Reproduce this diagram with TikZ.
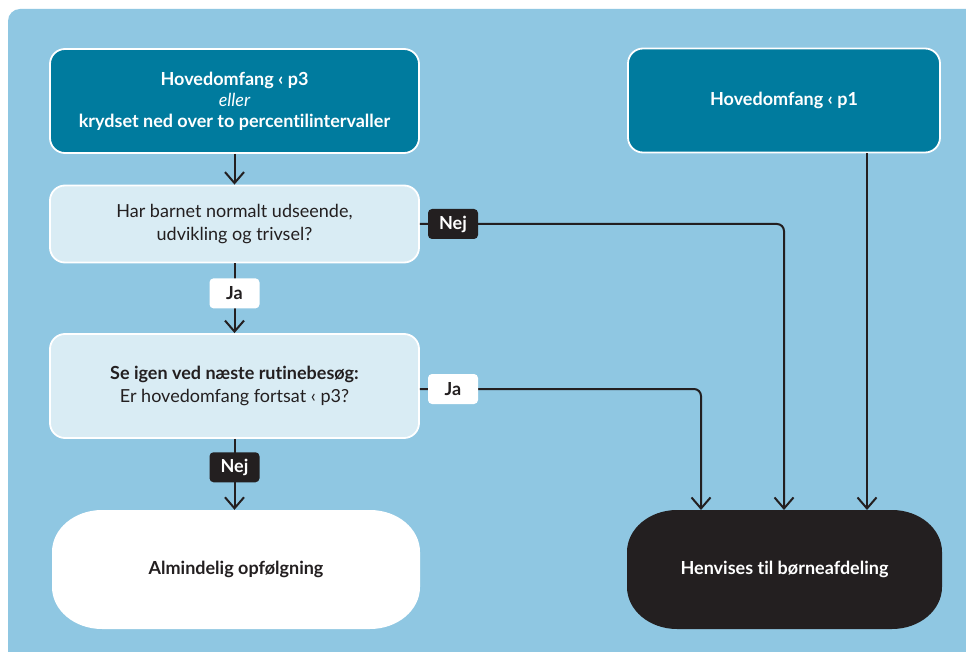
\documentclass[tikz,border=0pt]{standalone}
\usepackage{fontspec}
\setmainfont{Lato}[Ligatures=NoCommon]
\usetikzlibrary{arrows.meta}
\definecolor{panel}{HTML}{8FC7E2}
\definecolor{teal}{HTML}{007B9E}
\definecolor{pale}{HTML}{D9ECF4}
\definecolor{ink}{HTML}{231F20}
\newcommand{\boxfont}{\fontsize{18}{23}\selectfont}
% capsule with elliptical corners: {left}{top}{right}{bottom}
\newcommand{\capsulepath}[4]{({#1+50},#2) -- ({#3-50},#2)
  .. controls ({#3-22.4},#2) and (#3,{#2+18.8}) .. (#3,{#2+42}) -- (#3,{#4-42})
  .. controls (#3,{#4-18.8}) and ({#3-22.4},#4) .. ({#3-50},#4) -- ({#1+50},#4)
  .. controls ({#1+22.4},#4) and (#1,{#4-18.8}) .. (#1,{#4-42}) -- (#1,{#2+42})
  .. controls (#1,{#2+18.8}) and ({#1+22.4},#2) .. cycle}
\tikzset{
  every node/.style={font=\boxfont, text=ink, align=center, inner sep=0pt},
  headbox/.style={draw=white, line width=1.8pt, fill=teal, rounded corners=15pt,
    minimum width=369pt, minimum height=104pt, text=white, font=\boxfont\bfseries},
  askbox/.style={draw=white, line width=1.8pt, fill=pale, rounded corners=15pt,
    minimum width=369pt},
  endbox/.style={minimum height=119pt, font=\boxfont\bfseries},
  yeslabel/.style={fill=white, rounded corners=4pt, minimum width=50pt, minimum height=30pt,
    font=\boxfont\bfseries},
  nolabel/.style={fill=ink, rounded corners=4pt, minimum width=50pt, minimum height=30pt,
    text=white, font=\boxfont\bfseries},
  link/.style={draw=ink, line width=2pt, rounded corners=7pt},
  flow/.style={link, -{Straight Barb[length=11pt, width=19pt, line width=2pt]}},
}
\begin{document}
\begin{tikzpicture}[x=1pt, y=-1pt]
\useasboundingbox (0,0) rectangle (966,652);
\fill[white] (0,0) rectangle (966,652);
\begin{scope}
  \clip (0,0) rectangle (966,652);
  \fill[panel, rounded corners=12pt] (8,9) rectangle (990,670);
\end{scope}

% boxes
\node[headbox] (start) at (234.5,101) {Hovedomfang ‹ p3\\[-2pt]{\normalfont\itshape eller}\\[-2pt]krydset ned over to percentilintervaller};
\node[headbox, minimum width=312pt] (severe) at (784,100.5) {Hovedomfang ‹ p1};
\node[askbox, minimum height=77pt] (look) at (234.5,224) {Har barnet normalt udseende,\\udvikling og trivsel?};
\node[askbox, minimum height=104pt] (again) at (234.5,386) {\textbf{Se igen ved næste rutinebesøg:}\\Er hovedomfang fortsat ‹ p3?};

% outcome capsules
\fill[white] \capsulepath{52}{510}{420}{629};
\fill[ink] \capsulepath{627}{510}{942}{629};
\node[endbox, minimum width=368pt] (routine) at (236,569.5) {Almindelig opfølgning};
\node[endbox, text=white, minimum width=315pt] (refer) at (784.5,569.5) {Henvises til børneafdeling};

% anchor points on the referral box
\coordinate (inA) at (701,510);
\coordinate (inB) at (784,510);
\coordinate (inC) at (867,510);

% connectors
\draw[flow] (start.south) -- (look.north);
\draw[flow] (look.south) -- (again.north) node[pos=0.43, yeslabel] (ja1) {Ja};
\draw[flow] (again.south) -- (routine.north -| again.south) node[pos=0.40, nolabel] (nej2) {Nej};
\draw[flow] (look.east) -- (inB |- look.east) -- (inB);
\node[nolabel] (nej1) at (453,224) {Nej};
\draw[flow] (again.east |- 0,389) -- (inA |- 0,389) -- (inA);
\node[yeslabel] (ja2) at (453,389) {Ja};
\draw[flow] (severe.south -| inC) -- (inC);
\end{tikzpicture}
\end{document}
